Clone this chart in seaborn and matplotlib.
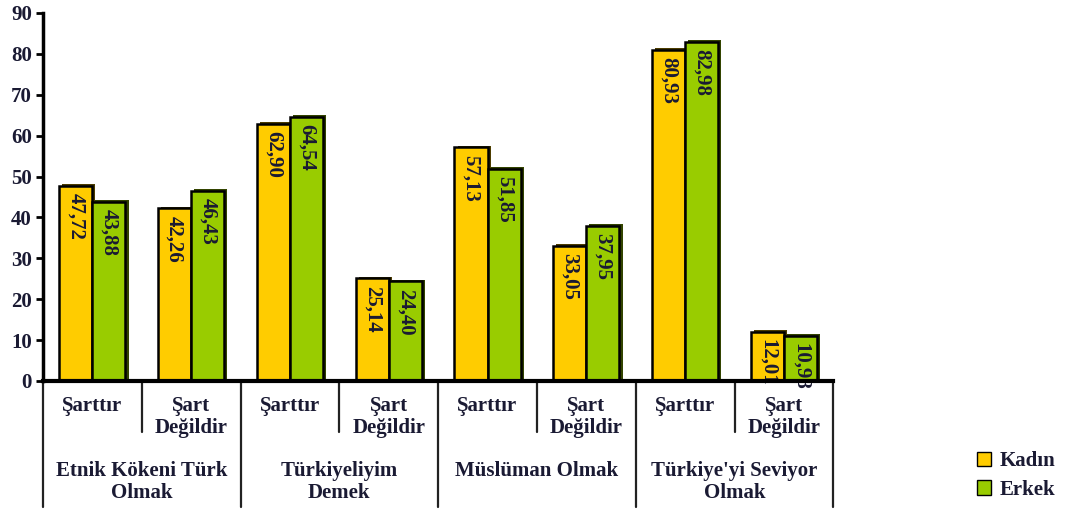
import seaborn as sns
import matplotlib.pyplot as plt
import matplotlib.transforms as mtransforms
import matplotlib.patheffects as pe
from matplotlib.patches import Patch
import pandas as pd

sns.set_style("white")
plt.rcParams["font.family"] = "serif"
plt.rcParams["font.serif"] = ["Liberation Serif", "DejaVu Serif"]
plt.rcParams["font.weight"] = "bold"

TEXT = "#1a1a33"

# Data
groups = ["Etnik Kökeni Türk\nOlmak", "Türkiyeliyim\nDemek",
          "Müslüman Olmak", "Türkiye'yi Seviyor\nOlmak"]
answers = ["Şarttır", "Şart\nDeğildir"]
kadin = [47.72, 42.26, 62.90, 25.14, 57.13, 33.05, 80.93, 12.01]
erkek = [43.88, 46.43, 64.54, 24.40, 51.85, 37.95, 82.98, 10.98]
series = ["Kadın", "Erkek"]
colors = ["#FFCC00", "#99CC00"]
shadows = ["#4d3d00", "#334400"]

cats = [f"{g} | {a}" for g in groups for a in answers]
df = pd.DataFrame({
    "cat": cats * 2,
    "Cinsiyet": [series[0]] * len(cats) + [series[1]] * len(cats),
    "value": kadin + erkek,
})

fig = plt.figure(figsize=(10.67, 5.09), dpi=100)
ax = fig.add_axes([0.0403, 0.2515, 0.7407, 0.723])

sns.barplot(data=df, x="cat", y="value", hue="Cinsiyet", order=cats,
            hue_order=series, palette=colors, width=0.67, saturation=1,
            edgecolor="black", linewidth=1.8, legend=False, ax=ax)

# 3d-like side shadow and value labels inside the bars
for cont, sh in zip(ax.containers, shadows):
    for p in cont.patches:
        p.set_path_effects([pe.SimplePatchShadow(offset=(2.2, 1.2),
                                                 shadow_rgbFace=sh, alpha=1),
                            pe.Normal()])
        h = p.get_height()
        ax.text(p.get_x() + p.get_width() / 2, h - 1.8,
                f"{h:.2f}".replace(".", ","), rotation=270,
                ha="center", va="top", fontsize=15, fontweight="bold",
                color=TEXT)

ax.set_xlim(-0.5, len(cats) - 0.5)
ax.set_ylim(0, 90)
ax.set_yticks(range(0, 91, 10))
ax.set_xticks([])
ax.set_xlabel("")
ax.set_ylabel("")
ax.tick_params(axis="y", direction="out", length=5, width=2, color="black",
               labelsize=15, labelcolor=TEXT, pad=3, left=True)
for lab in ax.get_yticklabels():
    lab.set_fontweight("bold")
for s in ["top", "right"]:
    ax.spines[s].set_visible(False)
ax.spines["left"].set_linewidth(2.5)
ax.spines["bottom"].set_linewidth(3)
ax.spines["left"].set_color("black")
ax.spines["bottom"].set_color("black")
ax.spines["bottom"].set_zorder(5)

# multi-level category axis
trans = mtransforms.blended_transform_factory(ax.transData, ax.transAxes)
for i in range(len(cats) + 1):
    x = i - 0.5
    low = -0.342 if i % 2 == 0 else -0.139
    ax.plot([x, x], [0, low], color="#222222", lw=1.6, transform=trans,
            clip_on=False)
for i, c in enumerate(cats):
    ax.text(i, -0.04, answers[i % 2], transform=trans, ha="center", va="top",
            fontsize=15, fontweight="bold", color=TEXT, linespacing=1.15)
for j, g in enumerate(groups):
    ax.text(2 * j + 0.5, -0.218, g, transform=trans, ha="center", va="top",
            fontsize=15, fontweight="bold", color=TEXT, linespacing=1.15)

handles = [Patch(facecolor=c, edgecolor="black", linewidth=1) for c in colors]
fig.legend(handles, series, loc="upper left", bbox_to_anchor=(0.898, 0.15),
           frameon=False, fontsize=15, handlelength=0.7, handleheight=0.7,
           handletextpad=0.4, labelspacing=0.4, labelcolor=TEXT)

fig.savefig("out.png", dpi=100)
